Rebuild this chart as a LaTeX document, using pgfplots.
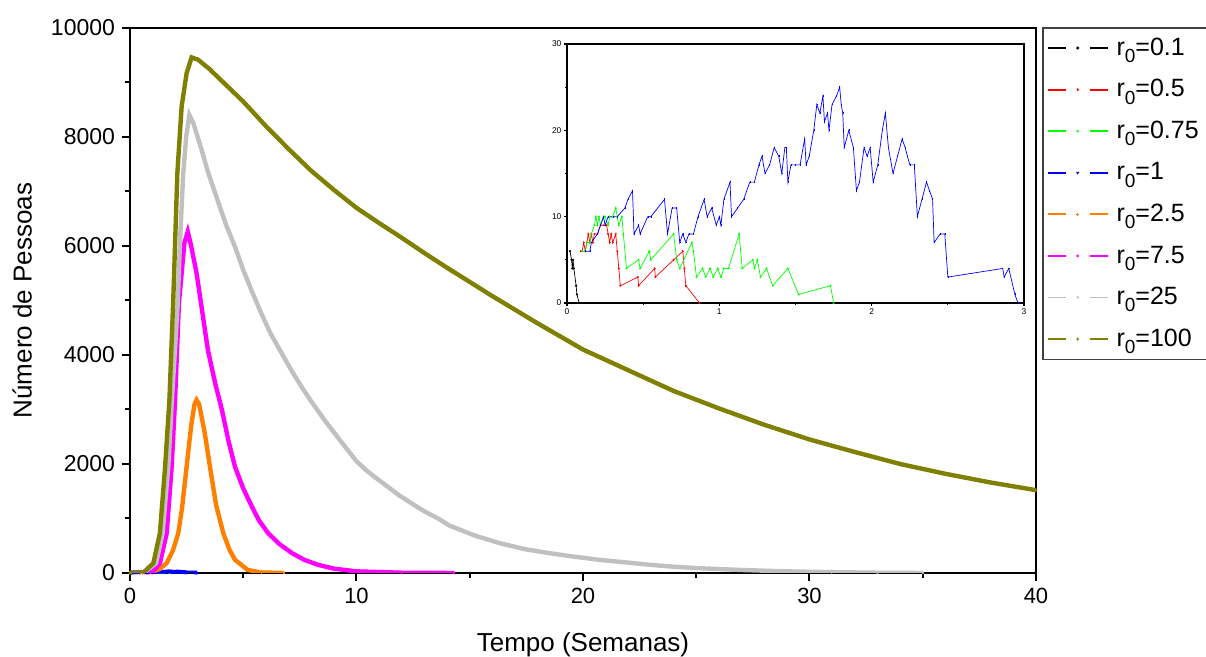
\documentclass[border=0pt]{standalone}
\usepackage{pgfplots}
\usepackage{pgfplotstable}
\pgfplotsset{compat=1.18}
\usetikzlibrary{calc}
\usepackage{fontspec}
\setmainfont{Liberation Sans}

\definecolor{orgBlack}{RGB}{0,0,0}
\definecolor{orgRed}{RGB}{255,0,0}
\definecolor{orgGreen}{RGB}{0,255,0}
\definecolor{orgBlue}{RGB}{0,0,255}
\definecolor{orgOrange}{RGB}{255,128,0}
\definecolor{orgMagenta}{RGB}{255,0,255}
\definecolor{orgGray}{RGB}{192,192,192}
\definecolor{orgOlive}{RGB}{128,128,0}

\newcommand{\rz}{r\raisebox{-0.55ex}{\fontsize{9.5}{10}\selectfont 0}}

% r0 = 0.1
\pgfplotstableread{
t n
0.02 6
0.03 5
0.035 4
0.04 5
0.045 4
0.06 2
0.065 1
0.08 0
}\rzeroA
% r0 = 0.5
\pgfplotstableread{
t n
0.09 6
0.10 6
0.11 7
0.12 6
0.13 7
0.14 8
0.15 7
0.16 8
0.17 7
0.18 8
0.20 8
0.22 9
0.24 9
0.26 9
0.27 8
0.28 7
0.29 8
0.30 7
0.32 8
0.33 6
0.34 4
0.35 2
0.465 3
0.47 2
0.575 4
0.58 3
0.70 5
0.76 6
0.77 4
0.78 2
0.87 0
}\rzeroB
% r0 = 0.75
\pgfplotstableread{
t n
0.10 6
0.12 6
0.13 7
0.15 7
0.16 8
0.18 9
0.19 10
0.20 9
0.21 10
0.22 9
0.24 10
0.25 10
0.27 9
0.28 10
0.30 10
0.32 11
0.33 10
0.34 9
0.36 10
0.37 8
0.39 4
0.47 5
0.48 4
0.54 6
0.55 5
0.70 8
0.72 5
0.74 4
0.82 7
0.83 6
0.85 3
0.89 4
0.91 3
0.94 4
0.96 3
0.99 4
1.01 3
1.03 4
1.06 4
1.13 8
1.15 4
1.22 5
1.23 4
1.25 5
1.27 3
1.31 4
1.35 2
1.45 4
1.52 1
1.73 2
1.75 0
}\rzeroC
% r0 = 1
\pgfplotstableread{
t n
0.12 6
0.15 6
0.16 7
0.20 8
0.22 9
0.24 10
0.25 9
0.27 10
0.30 10
0.33 10
0.38 11
0.40 12
0.43 13
0.44 8
0.47 9
0.48 8
0.53 10
0.55 10
0.64 12
0.66 8
0.69 11
0.72 11
0.74 7
0.76 8
0.78 7
0.80 8
0.83 8
0.86 10
0.90 12
0.92 10
0.95 11
0.98 9
1.00 10
1.01 9
1.03 12
1.07 14
1.08 10
1.12 11
1.16 12
1.20 14
1.23 14
1.26 16
1.28 17
1.30 15
1.33 16
1.36 18
1.39 17
1.41 15
1.43 18
1.44 18
1.45 14
1.47 16
1.50 16
1.53 16
1.56 19
1.57 16
1.59 17
1.62 20
1.64 23
1.66 22
1.68 24
1.69 21
1.71 22
1.72 20
1.74 23
1.77 24
1.79 25
1.80 23
1.81 22
1.82 18
1.85 20
1.88 18
1.90 13
1.92 14
1.95 18
1.97 17
1.99 18
2.01 14
2.04 16
2.07 20
2.09 22
2.11 18
2.14 15
2.17 17
2.20 19
2.22 18
2.25 16
2.28 16
2.30 10
2.33 12
2.36 14
2.38 13
2.40 12
2.41 7
2.45 8
2.48 8
2.50 3
2.86 4
2.87 3
2.90 4
2.94 1
2.96 0
}\rzeroD
% r0 = 2.5
\pgfplotstableread{
t n
0 0
0.5 2
0.88 10
1.3 70
1.62 180
1.9 420
2.13 728
2.3 1200
2.5 1950
2.7 2700
2.85 3100
2.94 3175
3.05 3100
3.3 2570
3.53 1950
3.8 1250
4.12 728
4.4 420
4.64 240
5.2 55
5.8 10
6.8 0
}\rzeroE
% r0 = 7.5
\pgfplotstableread{
t n
0 0
0.6 3
1.0 20
1.32 180
1.62 728
1.84 1950
1.99 3175
2.16 4950
2.28 5500
2.4 6050
2.55 6263
2.7 6000
2.94 5500
3.16 4880
3.44 4090
3.75 3500
4.06 2990
4.35 2420
4.64 1945
5.0 1550
5.39 1210
5.7 960
6.1 730
6.6 530
7.15 365
7.7 240
8.3 150
9.0 80
10 30
12 5
14.3 0
}\rzeroF
% r0 = 25
\pgfplotstableread{
t n
0 0
0.6 5
1.15 180
1.44 728
1.69 1950
1.85 3175
2.1 4887
2.21 6110
2.35 7334
2.48 8000
2.62 8404
2.8 8250
3.1 7850
3.46 7334
3.9 6800
4.25 6380
4.64 5980
5.0 5560
5.4 5150
5.8 4760
6.2 4400
6.7 4030
7.15 3700
7.6 3400
8.0 3150
8.6 2800
9.3 2420
10 2050
10.5 1860
11 1700
11.9 1420
12.5 1260
13 1130
13.6 1000
14.1 870
15.2 690
16.3 550
17.4 440
18.5 365
19.6 300
20.75 240
22 190
22.96 150
24 115
25 90
27 55
29 30
31 15
33 5
35 0
}\rzeroG
% r0 = 100
\pgfplotstableread{
t n
0 0
0.6 10
1.03 180
1.32 730
1.55 1950
1.74 3175
1.91 5010
2.09 7330
2.28 8560
2.5 9170
2.72 9460
3.0 9420
3.5 9250
4 9050
5 8650
6 8200
7 7780
8 7380
9 7030
10 6700
11 6420
12 6150
13 5870
14 5600
15 5340
16 5080
17 4830
18 4580
19 4340
20 4100
22 3720
24 3340
26 3020
28 2720
30 2450
32 2220
34 2000
36 1820
38 1660
40 1520
}\rzeroH

\begin{document}
\begin{tikzpicture}
\begin{axis}[
  name=main,
  scale only axis,
  width=453pt, height=272.5pt,
  xmin=0, xmax=40, ymin=0, ymax=10000,
  xtick={0,10,20,30,40},
  minor xtick={5,15,25,35},
  ytick={0,2000,4000,6000,8000,10000},
  minor ytick={1000,3000,5000,7000,9000},
  tick pos=left,
  tick align=outside,
  major tick length=4pt,
  minor tick length=2.5pt,
  axis line style={line width=1pt},
  every tick/.style={black, line width=1pt},
  xticklabel style={font=\fontsize{11}{12}\selectfont},
  yticklabel style={font=\fontsize{11.5}{12}\selectfont},
  /pgf/number format/assume math mode=true,
  /pgf/number format/1000 sep={},
  scaled y ticks=false,
  xlabel={Tempo (Semanas)},
  ylabel={Número de Pessoas},
  label style={font=\fontsize{13}{15}\selectfont},
  xlabel style={at={(axis description cs:0.5,-0.132)}, anchor=center},
  ylabel style={at={(axis description cs:-0.119,0.5)}, anchor=center},
  clip mode=individual,
  legend cell align=left,
  legend style={
    at={(1,1)}, anchor=north west, xshift=3pt, yshift=0.5pt,
    draw=black!75, line width=0.8pt,
    font=\fontsize{12.5}{14}\selectfont,
    row sep=6.6pt, column sep=2pt, inner xsep=2pt, inner ysep=3pt,
  },
  legend image code/.code={
    \draw[#1, line width=0.9pt, solid] (0pt,0pt) -- (9pt,0pt) (21pt,0pt) -- (30pt,0pt);
    \draw[#1, line width=0.3pt, solid] plot coordinates {(15pt,0pt)};
  },
  every axis plot/.append style={line width=2.2pt, mark size=0.6pt},
]
\coordinate (ll) at (rel axis cs:0,0);
\addplot[orgBlack, mark=*, mark options={solid, line width=0.3pt}] table[x=t, y=n] {\rzeroA};
\addlegendentry{\rz=0.1}
\addplot[orgRed, mark=triangle*, mark options={solid, line width=0.3pt, rotate=-90}] table[x=t, y=n] {\rzeroB};
\addlegendentry{\rz=0.5}
\addplot[orgGreen, mark=triangle*, mark options={solid, line width=0.3pt}] table[x=t, y=n] {\rzeroC};
\addlegendentry{\rz=0.75}
\addplot[orgBlue, mark=triangle*, mark options={solid, line width=0.3pt, rotate=180}] table[x=t, y=n] {\rzeroD};
\addlegendentry{\rz=1}
\addplot[orgOrange, mark=+, mark options={solid, line width=0.3pt}] table[x=t, y=n] {\rzeroE};
\addlegendentry{\rz=2.5}
\addplot[orgMagenta, mark=triangle*, mark options={solid, line width=0.3pt, rotate=90}] table[x=t, y=n] {\rzeroF};
\addlegendentry{\rz=7.5}
\addplot[orgGray, mark=triangle*, mark options={solid, line width=0.3pt, rotate=-90}] table[x=t, y=n] {\rzeroG};
\addlegendentry{\rz=25}
\addplot[orgOlive, mark=diamond*, mark options={solid, line width=0.3pt}] table[x=t, y=n] {\rzeroH};
\addlegendentry{\rz=100}
\end{axis}

% inset: first three weeks
\begin{axis}[
  at={($(ll)+(218.5pt,135pt)$)}, anchor=south west,
  scale only axis,
  width=228.5pt, height=129.5pt,
  xmin=0, xmax=3, ymin=0, ymax=30,
  xtick={0,1,2,3}, minor xtick={0.5,1.5,2.5},
  ytick={0,10,20,30}, minor ytick={5,15,25},
  tick pos=left, tick align=outside,
  major tick length=1.6pt, minor tick length=1pt,
  axis line style={line width=0.8pt},
  every tick/.style={black, line width=0.6pt},
  tick label style={font=\fontsize{4.2}{5}\selectfont, inner sep=1pt},
  /pgf/number format/assume math mode=true,
  axis background/.style={fill=white},
  every axis plot/.append style={line width=0.35pt, mark size=0.45pt},
]
\addplot[orgBlack, mark=*, mark options={solid, line width=0.2pt}] table[x=t, y=n] {\rzeroA};
\addplot[orgRed, mark=triangle*, mark options={solid, line width=0.2pt, rotate=-90}] table[x=t, y=n] {\rzeroB};
\addplot[orgGreen, mark=triangle*, mark options={solid, line width=0.2pt}] table[x=t, y=n] {\rzeroC};
\addplot[orgBlue, mark=|, mark options={solid, line width=0.2pt}] table[x=t, y=n] {\rzeroD};
\end{axis}

\pgfresetboundingbox
\path[use as bounding box] ($(ll)+(-65pt,-42pt)$) rectangle ($(ll)+(538pt,286.5pt)$);
\end{tikzpicture}
\end{document}
